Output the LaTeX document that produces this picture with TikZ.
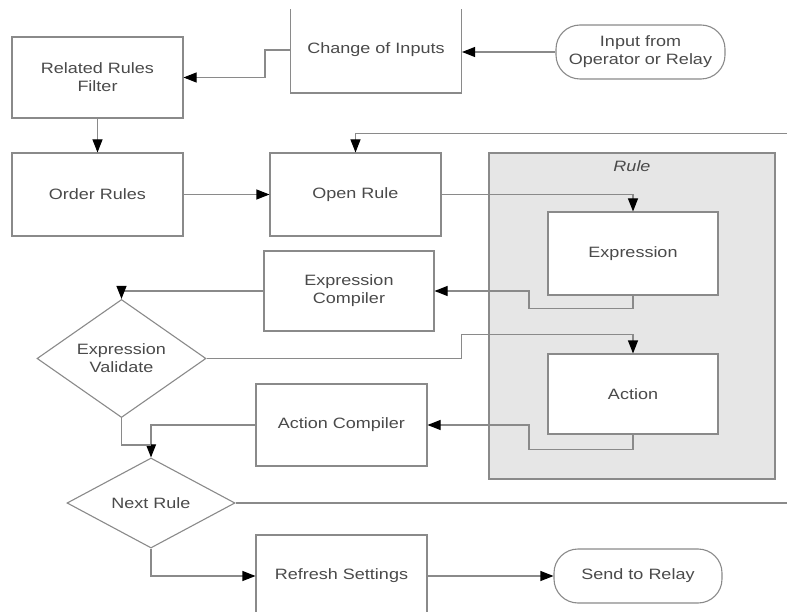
\documentclass[tikz,border=0pt]{standalone}
\usepackage{fontspec}
\setmainfont{Liberation Sans}[FakeStretch=1.2]
\usetikzlibrary{arrows.meta,shapes.geometric,calc}
\definecolor{linegray}{HTML}{8A8A8A}
\definecolor{txtgray}{HTML}{4A4A4A}
\definecolor{rulefill}{HTML}{E6E6E6}
\tikzset{
  base/.style={draw=linegray, line width=1.1pt, text=txtgray, font=\fontsize{15}{18}\selectfont, align=center, inner sep=0pt},
  procbox/.style={base, rectangle, fill=white},
  decbox/.style={base, diamond, fill=white},
  termbox/.style={base, rectangle, rounded corners=24pt, fill=white},
  conn/.style={draw=linegray, line width=1.1pt},
  arr/.style={conn, -{Triangle[length=13pt,width=10pt,color=black,fill=black]}},
}
\begin{document}
\begin{tikzpicture}[x=1pt,y=-1pt]
\useasboundingbox (0,0) rectangle (787,612);
\begin{scope}
\clip (0,10) rectangle (787,612);
% container
\node[draw=linegray, line width=1.1pt, fill=rulefill, minimum width=286pt, minimum height=326pt, inner sep=0pt] (rule) at (632,316) {};
\node[text=txtgray, font=\fontsize{15}{18}\selectfont\itshape] (rulelbl) at (632,166) {Rule};
% nodes
\node[procbox, minimum width=171pt, minimum height=81pt] (rrf) at (97.5,77.5) {Related Rules\\Filter};
\node[procbox, minimum width=171pt, minimum height=83pt] (order) at (97.5,194.5) {Order Rules};
\node[procbox, minimum width=171pt, minimum height=86pt] (change) at (376,50) {Change of Inputs};
\node[termbox, minimum width=169pt, minimum height=54pt] (input) at (640.5,52) {Input from\\Operator or Relay};
\node[procbox, minimum width=171pt, minimum height=83pt] (open) at (355.5,194.5) {Open Rule};
\node[procbox, minimum width=170pt, minimum height=83pt] (expr) at (633,253.5) {Expression};
\node[procbox, minimum width=170pt, minimum height=80pt] (ecomp) at (349,291) {Expression\\Compiler};
\node[decbox, minimum width=169pt, minimum height=81pt] (eval) at (121.5,358.5) {Expression\\Validate};
\node[procbox, minimum width=170pt, minimum height=80pt] (action) at (633,394) {Action};
\node[procbox, minimum width=171pt, minimum height=82pt] (acomp) at (341.5,425) {Action Compiler};
\node[decbox, minimum width=168pt, minimum height=80pt] (next) at (151,503) {Next Rule};
\node[procbox, minimum width=171pt, minimum height=82pt] (refresh) at (341.5,576) {Refresh Settings};
\node[termbox, minimum width=168pt, minimum height=54pt] (send) at (638,576) {Send to Relay};
\coordinate (fbtop) at (787,133.5);
\coordinate (fbbot) at (787,503);
\coordinate (join) at (151,445);
% connectors
\draw[arr] (input.west) -- (input.west -| change.east);
\draw[arr] (change.west) -- ++(-25,0) |- (rrf.east);
\draw[arr] (rrf.south) -- (order.north);
\draw[arr] (order.east) -- (open.west);
\draw[arr] (fbtop) -| (open.north);
\draw[arr] (open.east) -| (expr.north);
\draw[arr] (expr.south) -- ++(0,13) -- ++(-104,0) |- (ecomp.east);
\draw[arr] (ecomp.west) -| (eval.north);
\draw[arr] (eval.east) -- ++(255,0) -- ++(0,-24) -| (action.north);
\draw[arr] (action.south) -- ++(0,15) -- ++(-104,0) |- (acomp.east);
\draw[arr] (acomp.west) -| (next.north);
\draw[conn] (eval.south) |- (join);
\draw[conn] (next.east) -- (fbbot);
\draw[arr] (next.south) |- (refresh.west);
\draw[arr] (refresh.east) -- (send.west);
\end{scope}
\end{tikzpicture}
\end{document}
